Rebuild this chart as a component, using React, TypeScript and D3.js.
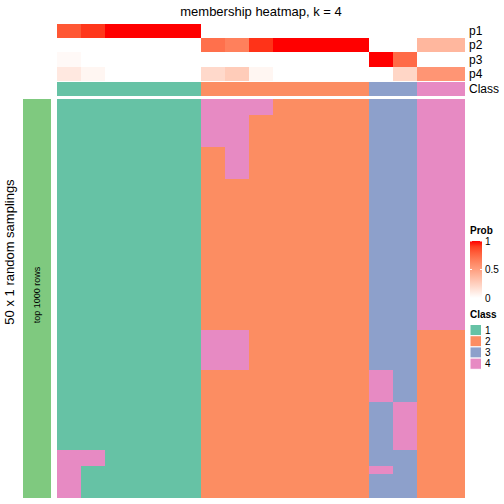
import React from "react";
import * as d3 from "d3";

const TITLE = "membership heatmap, k = 4";
const ROW_TITLE = "50 x 1 random samplings";
const BAR_LABEL = "top 1000 rows";
const CLASS_LABELS = ["1", "2", "3", "4"];
const CLASS_COLORS = ["#66C2A5", "#FC8D62", "#8DA0CB", "#E78AC3"];
const PROB_NAMES = ["p1", "p2", "p3", "p4"];
// consensus class per column (17 columns)
const COLUMN_CLASS = [1, 1, 1, 1, 1, 1, 2, 2, 2, 2, 2, 2, 2, 3, 3, 4, 4];
// membership probabilities per column
const P1 = [0.82, 0.92, 1, 1, 1, 1, 0, 0, 0, 0, 0, 0, 0, 0, 0, 0, 0];
const P2 = [0, 0, 0, 0, 0, 0, 0.72, 0.65, 0.93, 1, 1, 1, 1, 0, 0, 0.38, 0.38];
const P3 = [0.03, 0, 0, 0, 0, 0, 0, 0, 0, 0, 0, 0, 0, 1, 0.74, 0, 0];
const P4 = [0.12, 0.05, 0, 0, 0, 0, 0.2, 0.27, 0.05, 0, 0, 0, 0, 0, 0.22, 0.55, 0.55];
// class per sampling (50 rows) for each column, run-length encoded [class, count]
const COLUMN_RUNS: number[][][] = [
  [[1, 44], [4, 6]],
  [[1, 44], [4, 2], [1, 4]],
  [[1, 50]],
  [[1, 50]],
  [[1, 50]],
  [[1, 50]],
  [[4, 6], [2, 23], [4, 5], [2, 16]],
  [[4, 10], [2, 19], [4, 5], [2, 16]],
  [[4, 2], [2, 48]],
  [[2, 50]],
  [[2, 50]],
  [[2, 50]],
  [[2, 50]],
  [[3, 34], [4, 4], [3, 8], [4, 1], [3, 3]],
  [[3, 38], [4, 6], [3, 6]],
  [[4, 29], [2, 21]],
  [[4, 29], [2, 21]],
];
const LEGEND_TICKS = [1, 0.5, 0];

const FONT = "'Liberation Sans', Arial, Helvetica, sans-serif";

export default function App() {
  const nCol = COLUMN_CLASS.length;
  const nRow = 50;
  const x = d3.scaleBand<number>().domain(d3.range(nCol)).range([57, 465]);
  const y = d3.scaleBand<number>().domain(d3.range(nRow)).range([99, 498]);
  const probColor = d3.scaleLinear<string>().domain([0, 1]).range(["#FFFFFF", "#FF0000"]).interpolate(d3.interpolateLab);
  const classColor = d3.scaleOrdinal<number, string>().domain([1, 2, 3, 4]).range(CLASS_COLORS);
  const probRows = [P1, P2, P3, P4];
  const annY = d3.scaleBand<number>().domain([0, 1, 2, 3]).range([23.7, 81]);
  const legY = d3.scaleLinear().domain([0, 1]).range([298, 241]);

  const cells: React.ReactNode[] = [];
  COLUMN_RUNS.forEach((runs, c) => {
    let r = 0;
    runs.forEach(([cls, cnt], i) => {
      const y0 = y(r)!;
      const y1 = y(r + cnt - 1)! + y.bandwidth();
      cells.push(
        <rect key={`c${c}-${i}`} x={x(c)} y={y0} width={x.bandwidth()} height={y1 - y0} fill={classColor(cls)} />
      );
      r += cnt;
    });
  });

  const stops = d3.range(0, 1.0001, 0.1);

  return (
    <svg width={504} height={504} style={{ position: "absolute", left: 0, top: 0 }} fontFamily={FONT}>
      <rect width={504} height={504} fill="#fff" />
      <text x={261} y={16} fontSize={13} textAnchor="middle">{TITLE}</text>
      <g shapeRendering="crispEdges">
        {probRows.map((row, ri) =>
          row.map((v, c) => (
            <rect key={`p${ri}-${c}`} x={x(c)} y={annY(ri)} width={x.bandwidth()} height={annY.bandwidth()} fill={probColor(v)} />
          ))
        )}
        {COLUMN_CLASS.map((cls, c) => (
          <rect key={`cl${c}`} x={x(c)} y={81.7} width={x.bandwidth()} height={14.3} fill={classColor(cls)} />
        ))}
        {cells}
        <rect x={23} y={99} width={28} height={399} fill="#7FC97F" />
      </g>
      {PROB_NAMES.map((n, ri) => (
        <text key={n} x={469} y={annY(ri)! + annY.bandwidth() / 2} dy="0.35em" fontSize={12}>{n}</text>
      ))}
      <text x={469} y={89} dy="0.35em" fontSize={12}>Class</text>
      <text transform={`translate(40,295) rotate(-90)`} fontSize={9} textAnchor="middle">{BAR_LABEL}</text>
      <text transform={`translate(14,252) rotate(-90)`} fontSize={13} textAnchor="middle">{ROW_TITLE}</text>
      <defs>
        <linearGradient id="probgrad" x1="0" y1="1" x2="0" y2="0">
          {stops.map((s) => (
            <stop key={s} offset={s} stopColor={probColor(s)} />
          ))}
        </linearGradient>
      </defs>
      <text x={470} y={234} fontSize={10} fontWeight="bold">Prob</text>
      <rect x={470} y={legY(1)} width={12} height={legY(0) - legY(1)} fill="url(#probgrad)" />
      {LEGEND_TICKS.map((t) => (
        <g key={t}>
          {t !== 0 && (
            <>
              <line x1={470} x2={472} y1={legY(t)} y2={legY(t)} stroke="#fff" />
              <line x1={480} x2={482} y1={legY(t)} y2={legY(t)} stroke="#fff" />
            </>
          )}
          <text x={485} y={legY(t)} dy="0.35em" fontSize={10}>{t}</text>
        </g>
      ))}
      <text x={470} y={318} fontSize={10} fontWeight="bold">Class</text>
      {CLASS_LABELS.map((l, i) => (
        <g key={l}>
          <rect x={470} y={324.5 + i * 11.2} width={11.5} height={11.2} fill={CLASS_COLORS[i]} stroke="#fff" strokeWidth={1} />
          <text x={485} y={324.5 + i * 11.2 + 5.6} dy="0.35em" fontSize={10}>{l}</text>
        </g>
      ))}
    </svg>
  );
}
